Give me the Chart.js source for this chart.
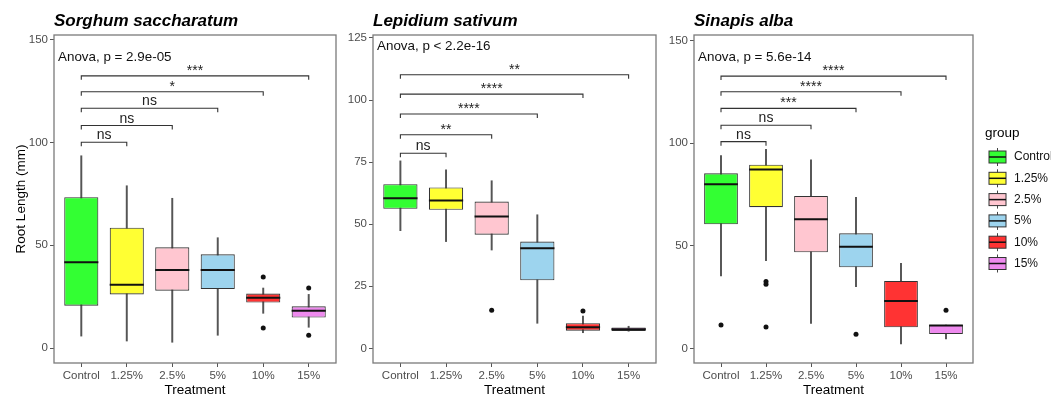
<!DOCTYPE html>
<html>
<head>
<meta charset="utf-8">
<script src="https://cdn.jsdelivr.net/npm/chart.js@4.4.1/dist/chart.umd.min.js"></script>
<style>
body { margin: 0; background: #fff; width: 1051px; height: 396px; overflow: hidden; position: relative; }
canvas { position: absolute; top: 0; }
</style>
</head>
<body>
<canvas id="c1" width="340" height="396" style="left:0"></canvas>
<canvas id="c2" width="320" height="396" style="left:340px"></canvas>
<canvas id="c3" width="391" height="396" style="left:660px"></canvas>
<script>
const treatments = ['Control', '1.25%', '2.5%', '5%', '10%', '15%'];
const groupColors = ['#33FF33', '#FFFF33', '#FFC6D0', '#9DD4EE', '#FF3333', '#EE8AEE'];

// Sorghum saccharatum
const sorghumLow = [5.8, 3.4, 2.8, 6.2, 16.9, 10.1];
const sorghumQ1 = [20.6, 26.1, 27.9, 28.7, 22.1, 14.8];
const sorghumMedian = [41.7, 30.8, 38.0, 38.0, 24.5, 18.2];
const sorghumQ3 = [73.4, 58.6, 49.0, 45.6, 26.5, 20.3];
const sorghumHigh = [93.6, 79.0, 72.9, 53.7, 29.2, 26.1];
const sorghumOutliers = [[], [], [], [], [34.6, 9.7], [29.2, 6.2]];
const sorghumBracketY = [100.2, 108.3, 116.7, 124.8, 132.5];
const sorghumSignif = ['ns', 'ns', 'ns', '*', '***'];
const sorghumTicks = [0, 50, 100, 150];

// Lepidium sativum
const lepidiumLow = [47.4, 43.0, 39.6, 10.1, 6.3, 6.9];
const lepidiumQ1 = [56.2, 55.8, 45.8, 27.4, 7.1, 7.0];
const lepidiumMedian = [60.5, 59.5, 53.1, 40.3, 8.5, 7.7];
const lepidiumQ3 = [66.1, 64.8, 59.1, 43.0, 10.1, 8.4];
const lepidiumHigh = [75.5, 71.9, 67.5, 53.8, 13.0, 8.9];
const lepidiumOutliers = [[], [], [15.3], [], [15.0], []];
const lepidiumBracketY = [78.6, 86.0, 94.4, 102.4, 110.2];
const lepidiumSignif = ['ns', '**', '****', '****', '**'];
const lepidiumTicks = [0, 25, 50, 75, 100, 125];

// Sinapis alba
const sinapisLow = [35.4, 42.8, 12.3, 30.2, 2.3, 4.7];
const sinapisQ1 = [60.5, 68.8, 46.9, 39.6, 10.4, 7.1];
const sinapisMedian = [80.0, 87.2, 62.9, 49.6, 23.2, 11.2];
const sinapisQ3 = [85.3, 89.5, 74.3, 56.1, 32.9, 11.5];
const sinapisHigh = [93.9, 97.0, 91.8, 73.6, 41.5, 11.5];
const sinapisOutliers = [[11.5], [32.6, 31.3, 10.5], [], [7.0], [], [18.7]];
const sinapisBracketY = [100.7, 108.7, 116.9, 125.0, 132.6];
const sinapisSignif = ['ns', 'ns', '***', '****', '****'];
const sinapisTicks = [0, 50, 100, 150];

const bracketEnds = [1, 2, 3, 4, 5];

Chart.defaults.font.family = "'Liberation Sans', Arial, sans-serif";

function makeExtras(p) {
    return {
        id: 'boxExtras',
        afterDatasetsDraw(chart) {
            const ctx = chart.ctx;
            const a = chart.chartArea;
            const x = chart.scales.x, y = chart.scales.y;
            const half = (x.getPixelForValue(1) - x.getPixelForValue(0)) * 0.75 / 2;
            ctx.save();

            // medians
            ctx.strokeStyle = '#111';
            ctx.lineWidth = 2;
            p.median.forEach((m, i) => {
                const cx = x.getPixelForValue(i), cy = y.getPixelForValue(m);
                ctx.beginPath();
                ctx.moveTo(cx - half, cy);
                ctx.lineTo(cx + half, cy);
                ctx.stroke();
            });

            // comparison brackets
            ctx.strokeStyle = '#333';
            ctx.lineWidth = 1.1;
            ctx.fillStyle = '#222';
            ctx.font = "14px 'Liberation Sans', Arial, sans-serif";
            ctx.textAlign = 'center';
            ctx.textBaseline = 'alphabetic';
            p.bracketY.forEach((v, i) => {
                const x0 = x.getPixelForValue(0), x1 = x.getPixelForValue(bracketEnds[i]);
                const by = y.getPixelForValue(v);
                ctx.beginPath();
                ctx.moveTo(x0, by + 4);
                ctx.lineTo(x0, by);
                ctx.lineTo(x1, by);
                ctx.lineTo(x1, by + 4);
                ctx.stroke();
                const label = p.signif[i];
                ctx.fillText(label, (x0 + x1) / 2, label === 'ns' ? by - 3 : by - 1);
            });

            // anova label
            ctx.textAlign = 'left';
            ctx.textBaseline = 'middle';
            ctx.font = "13.4px 'Liberation Sans', Arial, sans-serif";
            ctx.fillStyle = '#111';
            ctx.fillText(p.anova, a.left + 4, y.getPixelForValue(p.anovaY));

            // panel border
            ctx.strokeStyle = '#7a7a7a';
            ctx.lineWidth = 1.3;
            ctx.strokeRect(a.left, a.top, a.right - a.left, a.bottom - a.top);

            // facet title
            ctx.fillStyle = '#000';
            ctx.font = "italic bold 17px 'Liberation Sans', Arial, sans-serif";
            ctx.textBaseline = 'alphabetic';
            ctx.fillText(p.title, a.left, 26);

            // legend
            if (p.legend) {
                const lx = a.right + 16;
                ctx.font = "13.5px 'Liberation Sans', Arial, sans-serif";
                ctx.textBaseline = 'middle';
                ctx.fillText('group', a.right + 12, 133);
                treatments.forEach((t, i) => {
                    const cy = 157 + i * 21.3;
                    ctx.strokeStyle = '#444';
                    ctx.lineWidth = 1;
                    ctx.beginPath();
                    ctx.moveTo(lx + 8.5, cy - 9);
                    ctx.lineTo(lx + 8.5, cy + 9);
                    ctx.stroke();
                    ctx.fillStyle = groupColors[i];
                    ctx.fillRect(lx, cy - 6, 17, 12);
                    ctx.strokeStyle = '#333';
                    ctx.strokeRect(lx, cy - 6, 17, 12);
                    ctx.strokeStyle = '#111';
                    ctx.lineWidth = 1.5;
                    ctx.beginPath();
                    ctx.moveTo(lx, cy);
                    ctx.lineTo(lx + 17, cy);
                    ctx.stroke();
                    ctx.fillStyle = '#111';
                    ctx.font = "12px 'Liberation Sans', Arial, sans-serif";
                    ctx.fillText(t, lx + 25, cy);
                });
            }
            ctx.restore();
        }
    };
}

function makeChart(id, p) {
    const boxes = p.q1.map((q, i) => ({x: i, y: [q, p.q3[i]]}));
    const whiskers = p.low.map((l, i) => ({x: i, y: [l, p.high[i]]}));
    const points = [];
    p.outliers.forEach((list, i) => list.forEach(v => points.push({x: i, y: v})));

    return new Chart(document.getElementById(id), {
        type: 'bar',
        data: {
            datasets: [
                {type: 'scatter', data: points, pointRadius: 2.5, backgroundColor: '#111', borderWidth: 0, order: 0},
                {data: boxes, backgroundColor: groupColors, borderColor: '#333', borderWidth: 1.1,
                    borderSkipped: false, barPercentage: 0.75, categoryPercentage: 1, grouped: false, order: 1},
                {data: whiskers, backgroundColor: '#555', barThickness: 1.3, grouped: false, order: 2}
            ]
        },
        options: {
            responsive: false,
            animation: false,
            layout: {padding: {top: 35, right: p.padRight, left: 0, bottom: 0}},
            plugins: {legend: {display: false}, tooltip: {enabled: false}},
            scales: {
                x: {
                    type: 'linear', min: -0.6, max: 5.6, offset: false,
                    afterBuildTicks: s => { s.ticks = treatments.map((t, i) => ({value: i})); },
                    afterFit: s => { s.height = 33; },
                    ticks: {callback: v => treatments[v], color: '#4d4d4d', font: {size: 11.5}, padding: 2, autoSkip: false, maxRotation: 0},
                    grid: {drawOnChartArea: false, offset: false, tickLength: 4, color: '#555'},
                    border: {display: false},
                    title: {display: true, text: 'Treatment', color: '#000', font: {size: 13.5}, padding: {top: 0, bottom: -2.5}}
                },
                y: {
                    min: p.yMin, max: p.yMax,
                    afterBuildTicks: s => { s.ticks = p.ticks.map(v => ({value: v})); },
                    afterFit: s => { s.width = p.axisWidth; },
                    ticks: {color: '#4d4d4d', font: {size: 11.5}, padding: 2},
                    grid: {drawOnChartArea: false, tickLength: 4, color: '#555'},
                    border: {display: false},
                    title: {display: p.yTitle, text: 'Root Length (mm)', color: '#000', font: {size: 13.5}, padding: {top: 13, bottom: 0}}
                }
            }
        },
        plugins: [makeExtras(p)]
    });
}

makeChart('c1', {
    title: 'Sorghum saccharatum', anova: 'Anova, p = 2.9e-05', anovaY: 141.7,
    low: sorghumLow, q1: sorghumQ1, median: sorghumMedian, q3: sorghumQ3, high: sorghumHigh,
    outliers: sorghumOutliers, bracketY: sorghumBracketY, signif: sorghumSignif, ticks: sorghumTicks,
    yMin: -7.3, yMax: 152.4, axisWidth: 54, padRight: 4, yTitle: true
});
makeChart('c2', {
    title: 'Lepidium sativum', anova: 'Anova, p < 2.2e-16', anovaY: 121.5,
    low: lepidiumLow, q1: lepidiumQ1, median: lepidiumMedian, q3: lepidiumQ3, high: lepidiumHigh,
    outliers: lepidiumOutliers, bracketY: lepidiumBracketY, signif: lepidiumSignif, ticks: lepidiumTicks,
    yMin: -5.9, yMax: 126.2, axisWidth: 33, padRight: 4, yTitle: false
});
makeChart('c3', {
    title: 'Sinapis alba', anova: 'Anova, p = 5.6e-14', anovaY: 141.9,
    low: sinapisLow, q1: sinapisQ1, median: sinapisMedian, q3: sinapisQ3, high: sinapisHigh,
    outliers: sinapisOutliers, bracketY: sinapisBracketY, signif: sinapisSignif, ticks: sinapisTicks,
    yMin: -7.0, yMax: 152.6, axisWidth: 34, padRight: 78, yTitle: false, legend: true
});
</script>
</body>
</html>
